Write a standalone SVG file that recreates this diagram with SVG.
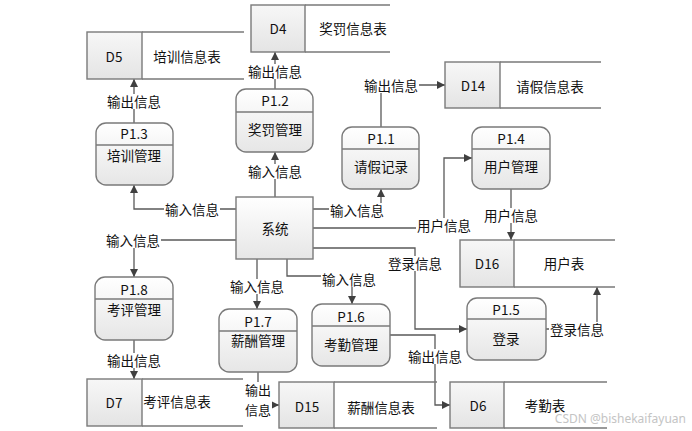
<svg xmlns="http://www.w3.org/2000/svg" width="692" height="431" viewBox="0 0 692 431">
<defs>
<linearGradient id="gp" x1="0" y1="0" x2="0" y2="1">
<stop offset="0" stop-color="#ffffff"/>
<stop offset="1" stop-color="#e6e6e6"/>
</linearGradient>
<linearGradient id="gd" x1="0" y1="0" x2="0" y2="1">
<stop offset="0" stop-color="#f7f7f7"/>
<stop offset="1" stop-color="#e4e4e4"/>
</linearGradient>
<marker id="ah" viewBox="0 0 10 10" refX="10" refY="5" markerWidth="8" markerHeight="8" markerUnits="userSpaceOnUse" orient="auto">
<path d="M0,0 L10,5 L0,10 z" fill="#404040"/>
</marker>
<style>
.t{font-family:"Noto Sans CJK SC","Noto Sans",sans-serif;font-size:13.5px;fill:#111;text-anchor:middle;dominant-baseline:central}
.s{font-size:13px}
.p{fill:url(#gp);stroke:#7a7a7a;stroke-width:1.4}
.ln{fill:none;stroke:#7a7a7a;stroke-width:1.4}
.dl{fill:url(#gd);stroke:#7a7a7a;stroke-width:1.4}
.c{fill:none;stroke:#595959;stroke-width:1.3;marker-end:url(#ah)}
.bg{fill:#fff}
</style>
</defs>
<rect width="692" height="431" fill="#fff"/>

<g id="connectors">
<path class="c" d="M275,89 V52"/>
<path class="c" d="M275,197 V152"/>
<path class="c" d="M134,123 V79"/>
<path class="c" d="M236,209 H134 V185"/>
<path class="c" d="M236,240 H134 V277"/>
<path class="c" d="M134,340 V379"/>
<path class="c" d="M257,259 V309"/>
<path class="c" d="M258,372 V405 H279"/>
<path class="c" d="M287,259 V276 H352 V304"/>
<path class="c" d="M390,335 H435 V405 H450"/>
<path class="c" d="M313,209 H381 V189"/>
<path class="c" d="M381,127 V85 H445"/>
<path class="c" d="M313,228 H444 V158 H472"/>
<path class="c" d="M511,189 V240"/>
<path class="c" d="M313,248 H415 V329 H467"/>
<path class="c" d="M546,329 H597 V287"/>
<g id="edge-labels">
<rect class="bg" x="247" y="64" width="56" height="15"/><text class="t" x="275" y="71">输出信息</text>
<rect class="bg" x="247" y="164" width="56" height="15"/><text class="t" x="275" y="171">输入信息</text>
<rect class="bg" x="106" y="94" width="56" height="15"/><text class="t" x="134" y="101">输出信息</text>
<rect class="bg" x="164" y="202" width="56" height="15"/><text class="t" x="192" y="209">输入信息</text>
<rect class="bg" x="105" y="233" width="56" height="15"/><text class="t" x="133" y="240">输入信息</text>
<rect class="bg" x="106" y="353" width="56" height="15"/><text class="t" x="134" y="360">输出信息</text>
<rect class="bg" x="229" y="279" width="56" height="15"/><text class="t" x="257" y="286">输入信息</text>
<rect class="bg" x="244" y="382" width="28" height="34"/><text class="t s" x="258" y="389">输出</text><text class="t s" x="258" y="409">信息</text>
<rect class="bg" x="321" y="272" width="56" height="15"/><text class="t" x="349" y="279">输入信息</text>
<rect class="bg" x="407" y="349" width="56" height="15"/><text class="t" x="435" y="356">输出信息</text>
<rect class="bg" x="329" y="203" width="56" height="15"/><text class="t" x="357" y="210">输入信息</text>
<rect class="bg" x="363" y="78" width="56" height="15"/><text class="t" x="391" y="85">输出信息</text>
<rect class="bg" x="416" y="218" width="56" height="15"/><text class="t" x="444" y="225">用户信息</text>
<rect class="bg" x="483" y="208" width="56" height="15"/><text class="t" x="511" y="215">用户信息</text>
<rect class="bg" x="387" y="256" width="56" height="15"/><text class="t" x="415" y="263">登录信息</text>
<rect class="bg" x="549" y="322" width="56" height="15"/><text class="t" x="577" y="329">登录信息</text>
</g>
</g>

<g id="sys">
<rect class="p" x="236" y="197" width="77" height="62"/>
<text class="t" x="275" y="228">系统</text>
</g>

<g id="P1.1">
<rect class="p" x="342" y="127" width="77" height="62" rx="10"/>
<line class="ln" x1="342" y1="149" x2="419" y2="149"/>
<text class="t" x="381" y="138">P1.1</text>
<text class="t" x="381" y="166">请假记录</text>
</g>
<g id="P1.2">
<rect class="p" x="236" y="89" width="77" height="63" rx="10"/>
<line class="ln" x1="236" y1="112" x2="313" y2="112"/>
<text class="t" x="275" y="100">P1.2</text>
<text class="t" x="275" y="129">奖罚管理</text>
</g>
<g id="P1.3">
<rect class="p" x="96" y="123" width="77" height="62" rx="10"/>
<line class="ln" x1="96" y1="145" x2="173" y2="145"/>
<text class="t" x="134" y="133">P1.3</text>
<text class="t" x="134" y="155">培训管理</text>
</g>
<g id="P1.4">
<rect class="p" x="472" y="127" width="78" height="62" rx="10"/>
<line class="ln" x1="472" y1="149" x2="550" y2="149"/>
<text class="t" x="511" y="138">P1.4</text>
<text class="t" x="511" y="166">用户管理</text>
</g>
<g id="P1.5">
<rect class="p" x="467" y="298" width="79" height="62" rx="10"/>
<line class="ln" x1="467" y1="319" x2="546" y2="319"/>
<text class="t" x="506" y="309">P1.5</text>
<text class="t" x="506" y="338">登录</text>
</g>
<g id="P1.6">
<rect class="p" x="312" y="304" width="78" height="62" rx="10"/>
<line class="ln" x1="312" y1="326" x2="390" y2="326"/>
<text class="t" x="351" y="316">P1.6</text>
<text class="t" x="351" y="344">考勤管理</text>
</g>
<g id="P1.7">
<rect class="p" x="219" y="309" width="78" height="63" rx="10"/>
<line class="ln" x1="219" y1="331" x2="297" y2="331"/>
<text class="t" x="258" y="321">P1.7</text>
<text class="t" x="258" y="340">薪酬管理</text>
</g>
<g id="P1.8">
<rect class="p" x="95" y="277" width="78" height="63" rx="10"/>
<line class="ln" x1="95" y1="299" x2="173" y2="299"/>
<text class="t" x="134" y="289">P1.8</text>
<text class="t" x="134" y="309">考评管理</text>
</g>

<g id="D4">
<rect class="dl" x="251" y="5" width="54" height="47"/>
<path class="ln" d="M305,5 H390 M305,52 H390"/>
<text class="t" x="278" y="28">D4</text>
<text class="t" x="353" y="28">奖罚信息表</text>
</g>
<g id="D5">
<rect class="dl" x="87" y="32" width="55" height="47"/>
<path class="ln" d="M142,32 H244 M142,79 H244"/>
<text class="t" x="114" y="56">D5</text>
<text class="t" x="187" y="56">培训信息表</text>
</g>
<g id="D14">
<rect class="dl" x="445" y="62" width="55" height="46"/>
<path class="ln" d="M500,62 H601 M500,108 H601"/>
<text class="t" x="473" y="85">D14</text>
<text class="t" x="550" y="86">请假信息表</text>
</g>
<g id="D16">
<rect class="dl" x="460" y="240" width="54" height="47"/>
<path class="ln" d="M514,240 H615 M514,287 H615"/>
<text class="t" x="487" y="263">D16</text>
<text class="t" x="564" y="263">用户表</text>
</g>
<g id="D7">
<rect class="dl" x="87" y="379" width="55" height="47"/>
<path class="ln" d="M142,379 H243 M142,426 H243"/>
<text class="t" x="114" y="402">D7</text>
<text class="t" x="177" y="401">考评信息表</text>
</g>
<g id="D15">
<rect class="dl" x="279" y="382" width="55" height="46"/>
<path class="ln" d="M334,382 H437 M334,428 H437"/>
<text class="t" x="307" y="406">D15</text>
<text class="t" x="381" y="407">薪酬信息表</text>
</g>
<g id="D6">
<rect class="dl" x="450" y="382" width="54" height="46"/>
<path class="ln" d="M504,382 H607 M504,428 H607"/>
<text class="t" x="478" y="405">D6</text>
<text class="t" x="545" y="405">考勤表</text>
</g>

<text x="686" y="418" font-family="'Noto Sans','Liberation Sans',sans-serif" font-size="12" fill="#c4c4c4" text-anchor="end" dominant-baseline="central">CSDN @bishekaifayuan</text>
</svg>
